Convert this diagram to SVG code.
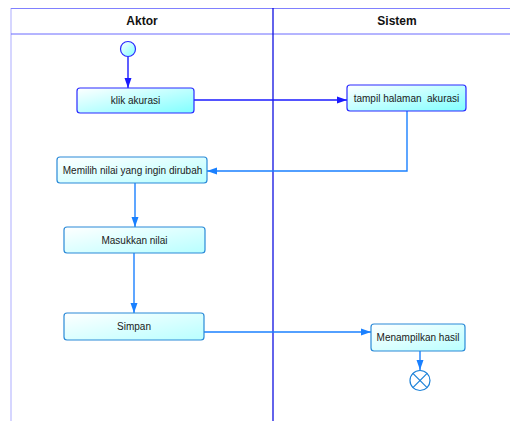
<svg xmlns="http://www.w3.org/2000/svg" width="510" height="421" viewBox="0 0 510 421">
  <defs>
    <linearGradient id="gradStrong" x1="0" y1="0" x2="1" y2="1">
      <stop offset="0" stop-color="#ffffff"/>
      <stop offset="1" stop-color="#80ffff"/>
    </linearGradient>
    <linearGradient id="gradSoft" x1="0" y1="0" x2="1" y2="1">
      <stop offset="0" stop-color="#ffffff"/>
      <stop offset="1" stop-color="#b8ffff"/>
    </linearGradient>
    <marker id="arrowDark" viewBox="0 0 10 10" refX="10" refY="5" markerWidth="10" markerHeight="10" markerUnits="userSpaceOnUse" orient="auto">
      <path d="M0,1.5 L10,5 L0,8.5 Z" fill="#1a1aff"/>
    </marker>
    <marker id="arrowLight" viewBox="0 0 10 10" refX="10" refY="5" markerWidth="10" markerHeight="10" markerUnits="userSpaceOnUse" orient="auto">
      <path d="M0,1.5 L10,5 L0,8.5 Z" fill="#1a80ff"/>
    </marker>
  </defs>
  <style>
    .lane-title { font-family: "Liberation Sans", Arial, sans-serif; font-size: 12px; font-weight: bold; fill: #111111; text-anchor: middle; }
    .label { font-family: "Liberation Sans", Arial, sans-serif; font-size: 10px; fill: #1a1a1a; text-anchor: middle; }
    .act-strong { fill: url(#gradStrong); stroke: #2a2aff; stroke-width: 1.2; }
    .act-soft { fill: url(#gradSoft); stroke: #2a8ad8; stroke-width: 1.2; }
    .flow-dark { fill: none; stroke: #1a1aff; stroke-width: 1.4; marker-end: url(#arrowDark); }
    .flow-light { fill: none; stroke: #1a80ff; stroke-width: 1.4; marker-end: url(#arrowLight); }
  </style>

  <rect width="510" height="421" fill="#ffffff"/>

  <!-- swimlanes -->
  <g id="swimlanes">
    <line x1="11" y1="8" x2="11" y2="421" stroke="#c8c8ff" stroke-width="1.5"/>
    <line x1="11" y1="8.5" x2="510" y2="8.5" stroke="#8080ff" stroke-width="1"/>
    <line x1="11" y1="34" x2="510" y2="34" stroke="#6a6aff" stroke-width="1"/>
    <line x1="273" y1="8" x2="273" y2="421" stroke="#1010e0" stroke-width="1.3"/>
    <text class="lane-title" x="142" y="25">Aktor</text>
    <text class="lane-title" x="397" y="25">Sistem</text>
  </g>

  <!-- connectors -->
  <g id="connectors">
    <path class="flow-dark" d="M128,57 L128,88"/>
    <path class="flow-dark" d="M194,100 L347,100"/>
    <path class="flow-light" d="M407,111 L407,171 L207,171"/>
    <path class="flow-light" d="M135,183 L135,227"/>
    <path class="flow-light" d="M134,253 L134,313"/>
    <path class="flow-light" d="M204,332 L371,332"/>
    <path class="flow-light" d="M420,351 L420,370"/>
  </g>

  <g id="start">
    <circle cx="128" cy="49" r="7.5" fill="url(#gradStrong)" stroke="#2a2aff" stroke-width="1.2"/>
  </g>

  <g id="klik-akurasi">
    <rect class="act-strong" x="77" y="88" width="117" height="25" rx="3"/>
    <text class="label" x="135.5" y="104">klik akurasi</text>
  </g>

  <g id="tampil-halaman-akurasi">
    <rect class="act-strong" x="347" y="85" width="119" height="26" rx="3"/>
    <text class="label" x="406.5" y="101.5" xml:space="preserve">tampil halaman  akurasi</text>
  </g>

  <g id="memilih-nilai">
    <rect class="act-soft" x="57" y="157" width="150" height="26" rx="3"/>
    <text class="label" x="132.5" y="173.5">Memilih nilai yang ingin dirubah</text>
  </g>

  <g id="masukkan-nilai">
    <rect class="act-soft" x="64" y="227" width="141" height="26" rx="3"/>
    <text class="label" x="134.5" y="243.5">Masukkan nilai</text>
  </g>

  <g id="simpan">
    <rect class="act-soft" x="64" y="313" width="140" height="27" rx="3"/>
    <text class="label" x="134" y="330">Simpan</text>
  </g>

  <g id="menampilkan-hasil">
    <rect class="act-soft" x="371" y="324" width="94" height="27" rx="3"/>
    <text class="label" x="418" y="341">Menampilkan hasil</text>
  </g>

  <g id="end">
    <circle cx="420" cy="380.5" r="10" fill="#ffffff" stroke="#1a80d8" stroke-width="1.2"/>
    <line x1="412.9" y1="373.4" x2="427.1" y2="387.6" stroke="#1a80d8" stroke-width="1.2"/>
    <line x1="427.1" y1="373.4" x2="412.9" y2="387.6" stroke="#1a80d8" stroke-width="1.2"/>
  </g>
</svg>
